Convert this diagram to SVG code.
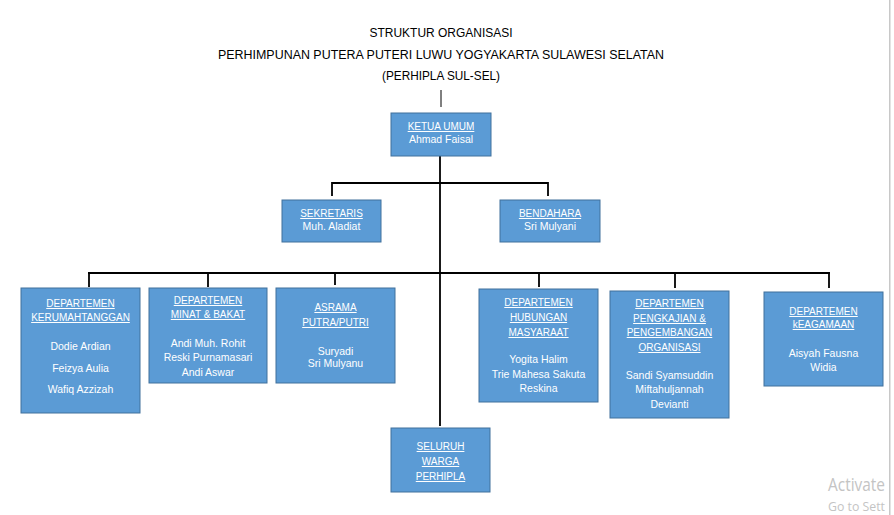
<svg xmlns="http://www.w3.org/2000/svg" width="894" height="515" viewBox="0 0 894 515">
<style>
  .box { fill: #5B9BD5; stroke: #41719C; stroke-width: 1; }
  .t { font-family: "Liberation Sans", Arial, sans-serif; fill: #ffffff; text-anchor: middle; }
  .h { font-size: 10px; text-decoration: underline; }
  .n { font-size: 10.5px; }
  .title { font-family: "Liberation Sans", Arial, sans-serif; font-size: 12px; fill: #000000; text-anchor: middle; }
  .con { stroke: #000000; stroke-width: 1.8; fill: none; }
  .wm { font-family: "Open Sans", "Liberation Sans", sans-serif; fill: #c4c4c4; }
</style>
<rect x="0" y="0" width="894" height="515" fill="#ffffff"/>

<g id="title">
  <text class="title" x="441" y="37" textLength="143" lengthAdjust="spacingAndGlyphs">STRUKTUR ORGANISASI</text>
  <text class="title" x="441" y="59" textLength="446" lengthAdjust="spacingAndGlyphs">PERHIMPUNAN PUTERA PUTERI LUWU YOGYAKARTA SULAWESI SELATAN</text>
  <text class="title" x="441" y="80" textLength="118" lengthAdjust="spacingAndGlyphs">(PERHIPLA SUL-SEL)</text>
</g>

<g id="connectors">
  <line x1="441" y1="90" x2="441" y2="107" stroke="#000" stroke-width="1"/>
  <line class="con" x1="440" y1="156" x2="440" y2="426"/>
  <polyline class="con" points="332,196 332,183 548,183 548,196"/>
  <line class="con" x1="88" y1="273" x2="830" y2="273"/>
  <line class="con" x1="89" y1="273" x2="89" y2="287"/>
  <line class="con" x1="208" y1="273" x2="208" y2="287"/>
  <line class="con" x1="335" y1="273" x2="335" y2="285"/>
  <line class="con" x1="539" y1="273" x2="539" y2="287"/>
  <line class="con" x1="675" y1="273" x2="675" y2="288"/>
  <line class="con" x1="829" y1="273" x2="829" y2="288"/>
</g>

<g id="ketua">
  <rect class="box" x="391" y="113" width="100" height="43"/>
  <text class="t h" x="441" y="130">KETUA UMUM</text>
  <text class="t n" x="441" y="143">Ahmad Faisal</text>
</g>

<g id="sekretaris">
  <rect class="box" x="282" y="200" width="99" height="42"/>
  <text class="t h" x="331.5" y="217">SEKRETARIS</text>
  <text class="t n" x="331.5" y="230">Muh. Aladiat</text>
</g>

<g id="bendahara">
  <rect class="box" x="500" y="200" width="100" height="42"/>
  <text class="t h" x="550" y="217">BENDAHARA</text>
  <text class="t n" x="550" y="230">Sri Mulyani</text>
</g>

<g id="kerumahtanggan">
  <rect class="box" x="21" y="288" width="119" height="125"/>
  <text class="t h" x="80.5" y="307">DEPARTEMEN</text>
  <text class="t h" x="80.5" y="321">KERUMAHTANGGAN</text>
  <text class="t n" x="80.5" y="350">Dodie Ardian</text>
  <text class="t n" x="80.5" y="372">Feizya Aulia</text>
  <text class="t n" x="80.5" y="393">Wafiq Azzizah</text>
</g>

<g id="minat-bakat">
  <rect class="box" x="149" y="288" width="118" height="95"/>
  <text class="t h" x="208" y="304">DEPARTEMEN</text>
  <text class="t h" x="208" y="318">MINAT &amp; BAKAT</text>
  <text class="t n" x="208" y="347">Andi Muh. Rohit</text>
  <text class="t n" x="208" y="361">Reski Purnamasari</text>
  <text class="t n" x="208" y="376">Andi Aswar</text>
</g>

<g id="asrama">
  <rect class="box" x="276" y="288" width="119" height="95"/>
  <text class="t h" x="335.5" y="311">ASRAMA</text>
  <text class="t h" x="335.5" y="326">PUTRA/PUTRI</text>
  <text class="t n" x="335.5" y="355">Suryadi</text>
  <text class="t n" x="335.5" y="367">Sri Mulyanu</text>
</g>

<g id="hubungan">
  <rect class="box" x="479" y="289" width="119" height="113"/>
  <text class="t h" x="538.5" y="306">DEPARTEMEN</text>
  <text class="t h" x="538.5" y="321">HUBUNGAN</text>
  <text class="t h" x="538.5" y="336">MASYARAAT</text>
  <text class="t n" x="538.5" y="363">Yogita Halim</text>
  <text class="t n" x="538.5" y="378">Trie Mahesa Sakuta</text>
  <text class="t n" x="538.5" y="392">Reskina</text>
</g>

<g id="pengkajian">
  <rect class="box" x="610" y="291" width="119" height="127"/>
  <text class="t h" x="669.5" y="307">DEPARTEMEN</text>
  <text class="t h" x="669.5" y="322">PENGKAJIAN &amp;</text>
  <text class="t h" x="669.5" y="336">PENGEMBANGAN</text>
  <text class="t h" x="669.5" y="351">ORGANISASI</text>
  <text class="t n" x="669.5" y="379">Sandi Syamsuddin</text>
  <text class="t n" x="669.5" y="393">Miftahuljannah</text>
  <text class="t n" x="669.5" y="408">Devianti</text>
</g>

<g id="keagamaan">
  <rect class="box" x="764" y="292" width="119" height="94"/>
  <text class="t h" x="823.5" y="315">DEPARTEMEN</text>
  <text class="t h" x="823.5" y="328">kEAGAMAAN</text>
  <text class="t n" x="823.5" y="357">Aisyah Fausna</text>
  <text class="t n" x="823.5" y="371">Widia</text>
</g>

<g id="seluruh">
  <rect class="box" x="391" y="428" width="99" height="64"/>
  <text class="t h" x="440.5" y="450">SELURUH</text>
  <text class="t h" x="440.5" y="465">WARGA</text>
  <text class="t h" x="440.5" y="480">PERHIPLA</text>
</g>

<g id="watermark">
  <text class="wm" x="828" y="491" font-size="18" textLength="57" lengthAdjust="spacingAndGlyphs">Activate</text>
  <text class="wm" x="828" y="511" font-size="13" textLength="57" lengthAdjust="spacingAndGlyphs">Go to Sett</text>
</g>
<rect x="889" y="0" width="1.5" height="515" fill="#c8c8c8"/>
</svg>
